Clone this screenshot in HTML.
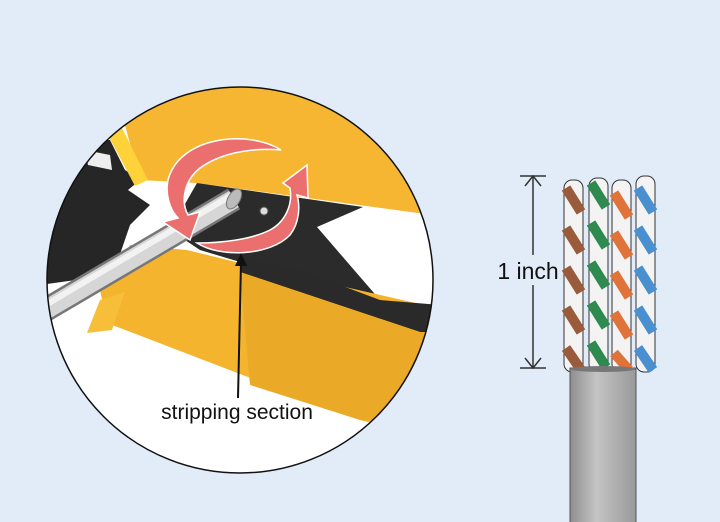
<!DOCTYPE html>
<html><head><style>
html,body{margin:0;padding:0;background:#e1ecf8;}
svg{display:block}
text{font-family:"Liberation Sans",sans-serif;}
</style></head><body>
<svg width="720" height="522" viewBox="0 0 720 522">
<rect width="720" height="522" fill="#e1ecf8"/>
<defs>
<clipPath id="c"><circle cx="240" cy="280" r="193"/></clipPath>
<linearGradient id="cab" x1="0" x2="1"><stop offset="0" stop-color="#8e8e8e"/><stop offset="0.4" stop-color="#c4c4c4"/><stop offset="1" stop-color="#999"/></linearGradient>
</defs>
<g clip-path="url(#c)">
<rect x="40" y="80" width="400" height="410" fill="#ffffff"/>
<!-- upper yellow -->
<polygon points="123,118 160,80 440,80 440,216 197,183 140,180" fill="#f6b631"/>
<!-- upper-left black -->
<polygon points="40,140 110,140 125,170 140,180 128,190 150,205 130,225 118,260 90,278 40,285" fill="#262626"/>
<polygon points="85,150 110,155 112,170 88,165" fill="#eee"/>
<polygon points="108,135 122,128 148,180 135,186" fill="#ffd23a"/>
<!-- blade -->
<polygon points="197,183 363,207 317,227 380,300 300,280 200,250 170,230" fill="#2b2b2b"/>
<!-- lower yellow -->
<polygon points="130,245 187,250 240,263 433,307 440,440 360,420 107,323 100,290" fill="#f5b42e"/>
<!-- band -->
<polygon points="240,258 300,270 380,300 440,305 440,332 420,332 240,272" fill="#2a2a2a"/>
<polygon points="240,272 420,332 440,332 440,420 360,420 250,385" fill="#eaa927"/>
<!-- left lower flange -->
<polygon points="100,300 125,292 112,330 87,333" fill="#f7be3a"/>
<!-- cable -->
<line x1="20" y1="325" x2="234" y2="199" stroke="#777" stroke-width="24"/>
<line x1="20" y1="325" x2="234" y2="199" stroke="#d6d6d6" stroke-width="19"/>
<line x1="20" y1="320" x2="232" y2="195" stroke="#f2f2f2" stroke-width="6"/>
<ellipse cx="234" cy="199" rx="6" ry="11" transform="rotate(30 234 199)" fill="#bbb" stroke="#777"/>
<circle cx="264" cy="211" r="4" fill="#ddd" stroke="#555"/>
<!-- red arrows -->
<g stroke="#fff" stroke-width="1.5">
<path d="M281,150 C250,130 180,135 168,180 C165,195 170,210 178,218 L163,222 L190,240 L200,212 L188,215 C180,200 185,180 200,168 C225,150 260,148 281,150 Z" fill="#ec6f6f"/>
<path d="M197,243 C220,258 270,256 290,235 C300,222 300,205 297,195 L308,198 L307,165 L283,183 L290,188 C293,205 285,222 270,230 C250,240 220,243 197,243 Z" fill="#ec6f6f"/>
</g>
</g>
<circle cx="240" cy="280" r="193" fill="none" stroke="#111" stroke-width="1.5"/>
<!-- pointer -->
<line x1="238" y1="398" x2="241" y2="262" stroke="#111" stroke-width="2"/>
<polygon points="241,253 235,266 247,266" fill="#111"/>
<text x="237" y="419" font-size="21" text-anchor="middle" fill="#111">stripping section</text>

<!-- dimension -->
<line x1="533" y1="176" x2="533" y2="368" stroke="#333" stroke-width="1.5"/>
<line x1="520" y1="176" x2="546" y2="176" stroke="#333" stroke-width="1.5"/>
<line x1="520" y1="368" x2="546" y2="368" stroke="#333" stroke-width="1.5"/>
<polyline points="525,186 533,176 541,186" fill="none" stroke="#333" stroke-width="1.5"/>
<polyline points="525,358 533,368 541,358" fill="none" stroke="#333" stroke-width="1.5"/>
<rect x="488" y="255" width="80" height="30" fill="#e1ecf8"/>
<text x="528" y="279" font-size="23" text-anchor="middle" fill="#111">1 inch</text>

<!-- wires -->
<g stroke="#333" stroke-width="1">
<rect x="564" y="180" width="19" height="192" rx="8" fill="#f3f3f3"/>
<path d="M566,188 L581,212 M566,228 L581,252 M566,268 L581,292 M566,308 L581,332 M566,348 L581,370" stroke="#9a5a3c" stroke-width="10"/>
<rect x="589" y="178" width="19" height="194" rx="8" fill="#f3f3f3"/>
<path d="M591,183 L606,207 M591,223 L606,247 M591,263 L606,287 M591,303 L606,327 M591,343 L606,367" stroke="#2f8a4f" stroke-width="10"/>
<rect x="612" y="180" width="19" height="192" rx="8" fill="#f3f3f3"/>
<path d="M614,193 L629,217 M614,233 L629,257 M614,273 L629,297 M614,313 L629,337 M614,353 L629,370" stroke="#e0733a" stroke-width="10"/>
<rect x="636" y="176" width="19" height="196" rx="8" fill="#f3f3f3"/>
<path d="M638,188 L653,212 M638,228 L653,252 M638,268 L653,292 M638,308 L653,332 M638,348 L653,370" stroke="#4a8fd0" stroke-width="10"/>
</g>
<rect x="570" y="368" width="66" height="160" fill="url(#cab)" stroke="#555" stroke-width="1"/>
<ellipse cx="603" cy="369" rx="33" ry="3" fill="#777"/>
</svg>
</body></html>
